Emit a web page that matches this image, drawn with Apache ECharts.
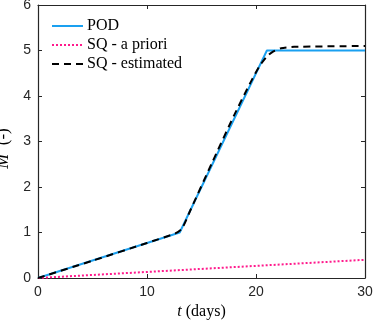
<!DOCTYPE html>
<html><head><meta charset="utf-8">
<script src="https://cdn.jsdelivr.net/npm/echarts@6/dist/echarts.min.js"></script>
<style>html,body{margin:0;padding:0;background:#fff}#c{width:374px;height:323px}</style>
</head><body><div id="c"></div>
<script>
const podT = [0, 13, 21, 30];
const podM = [0, 1, 5, 5];
const aprioriT = [0, 30];
const aprioriM = [0, 0.4];
const estT = [0, 5, 10, 12.6, 13.2, 14, 16, 18, 19.5, 20.3, 21, 21.6, 22.3, 23.5, 30];
const estM = [0, 0.38, 0.77, 0.98, 1.08, 1.5, 2.55, 3.58, 4.3, 4.65, 4.87, 4.98, 5.05, 5.08, 5.1];
const xTicks = [0, 10, 20, 30];
const yTicks = [0, 1, 2, 3, 4, 5, 6];

const zip = (a, b) => a.map((v, i) => [v, b[i]]);
const axisCol = '#262626';
const lblFont = {color: axisCol, fontSize: 14, fontFamily: 'Liberation Sans'};
const chart = echarts.init(document.getElementById('c'));
chart.setOption({
  animation: false,
  grid: {left: 38, right: 9, top: 5, bottom: 45, outerBoundsMode: 'none', containLabel: false},
  legend: {
    left: 46, top: 13, orient: 'vertical', itemWidth: 31, itemHeight: 12, itemGap: 3,
    itemStyle: {opacity: 0},
    textStyle: {fontFamily: 'Liberation Serif', fontSize: 16, color: '#000', padding: [0, 0, 0, -1]},
    data: ['POD', 'SQ - a priori', 'SQ - estimated']
  },
  xAxis: [{
    type: 'value', min: 0, max: 30, interval: 10, position: 'bottom',
    name: '{i|t} (days)', nameLocation: 'middle', nameGap: 20,
    nameTextStyle: {fontFamily: 'Liberation Serif', fontSize: 16, color: '#000', rich: {i: {fontFamily: 'Liberation Serif', fontStyle: 'italic', fontSize: 16}}},
    axisLine: {show: true, onZero: false, lineStyle: {color: axisCol, width: 1.2}},
    axisTick: {inside: true, length: 4, lineStyle: {color: axisCol}},
    axisLabel: Object.assign({margin: 7, formatter: v => xTicks.includes(v) ? String(v) : ''}, lblFont),
    splitLine: {show: false}
  }, {
    type: 'value', min: 0, max: 30, interval: 10, position: 'top',
    axisLine: {show: true, onZero: false, lineStyle: {color: axisCol, width: 1.2}},
    axisTick: {inside: true, length: 4, lineStyle: {color: axisCol}},
    axisLabel: {show: false}, splitLine: {show: false}
  }],
  yAxis: [{
    type: 'value', min: 0, max: 6, interval: 1, position: 'left',
    name: '{i|M}  (-)', nameLocation: 'middle', nameGap: 17, nameRotate: 90,
    nameTextStyle: {fontFamily: 'Liberation Serif', fontSize: 17, color: '#000', padding: [0, 14, 0, 0], rich: {i: {fontFamily: 'Liberation Serif', fontStyle: 'italic', fontSize: 18}}},
    axisLine: {show: true, onZero: false, lineStyle: {color: axisCol, width: 1.2}},
    axisTick: {inside: true, length: 4, lineStyle: {color: axisCol}},
    axisLabel: Object.assign({margin: 7, formatter: v => yTicks.includes(v) ? String(v) : ''}, lblFont),
    splitLine: {show: false}
  }, {
    type: 'value', min: 0, max: 6, interval: 1, position: 'right',
    axisLine: {show: true, onZero: false, lineStyle: {color: axisCol, width: 1.2}},
    axisTick: {inside: true, length: 4, lineStyle: {color: axisCol}},
    axisLabel: {show: false}, splitLine: {show: false}
  }],
  series: [
    {name: 'POD', type: 'line', data: zip(podT, podM), symbol: 'none', z: 2,
     itemStyle: {color: '#1aa0f0'}, lineStyle: {color: '#1aa0f0', width: 2}},
    {name: 'SQ - a priori', type: 'line', data: zip(aprioriT, aprioriM), symbol: 'none', z: 3,
     itemStyle: {color: '#ff1a8c'}, lineStyle: {color: '#ff1a8c', width: 2, type: [2, 2]}},
    {name: 'SQ - estimated', type: 'line', data: zip(estT, estM), symbol: 'none', smooth: 0.2, z: 4,
     itemStyle: {color: '#000'}, lineStyle: {color: '#000', width: 2, type: [7, 5]}}
  ]
});
</script></body></html>
